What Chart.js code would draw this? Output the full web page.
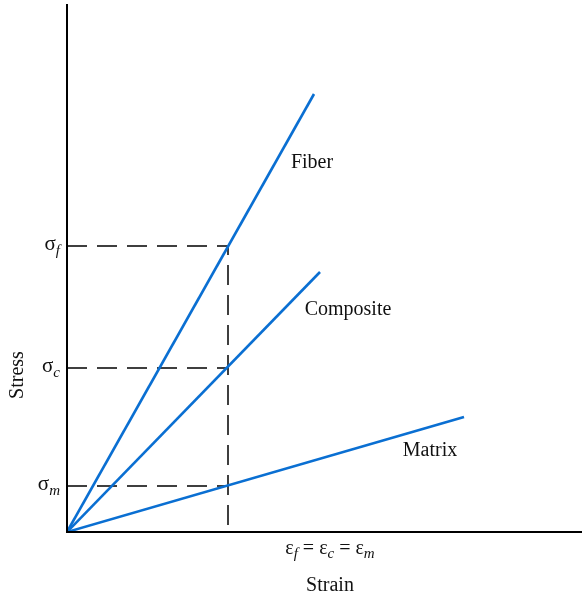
<!DOCTYPE html>
<html>
<head>
<meta charset="utf-8">
<script src="https://cdn.jsdelivr.net/npm/chart.js@4"></script>
<style>
  html, body { margin: 0; padding: 0; background: #fff; }
  #wrap { width: 582px; height: 598px; }
</style>
</head>
<body>
<div id="wrap"><canvas id="stressChart"></canvas></div>
<script>
// strain / stress in arbitrary units
const strainMax = 515;
const stressMax = 528;
const strainEq = 161;              // ef = ec = em
const lineNames = ['Fiber', 'Composite', 'Matrix'];
const lineEndStrain = [247, 253, 397];
const lineEndStress = [438, 260, 115];
const nameStrain = [245, 281, 363];  // where the names sit
const nameStress = [369, 222, 81];
const stressLevels = [286, 164, 46]; // sigma_f, sigma_c, sigma_m
const stressSubs = ['f', 'c', 'm'];

const blue = '#0a6fd2';
const serif = '"Liberation Serif", "DejaVu Serif", serif';

const datasets = lineNames.map((n, i) => ({
    label: n,
    data: [{x: 0, y: 0}, {x: lineEndStrain[i], y: lineEndStress[i]}],
    borderColor: blue,
    borderWidth: 2.6,
    pointRadius: 0
}));

// dashed guides
datasets.push({
    label: 'guide-f',
    data: [{x: 0, y: stressLevels[0]}, {x: strainEq, y: stressLevels[0]}, {x: strainEq, y: 0}],
    borderColor: '#000', borderWidth: 1.5, borderDash: [20, 10], pointRadius: 0
});
[1, 2].forEach(i => datasets.push({
    label: 'guide-' + stressSubs[i],
    data: [{x: 0, y: stressLevels[i]}, {x: strainEq, y: stressLevels[i]}],
    borderColor: '#000', borderWidth: 1.5, borderDash: [20, 10], pointRadius: 0
}));

const decor = {
    id: 'decor',
    afterDatasetsDraw(chart) {
        const {ctx, chartArea: a, scales: {x, y}} = chart;
        ctx.save();
        // axes
        ctx.strokeStyle = '#000';
        ctx.lineWidth = 2;
        ctx.beginPath();
        ctx.moveTo(a.left, a.top);
        ctx.lineTo(a.left, a.bottom);
        ctx.lineTo(a.right, a.bottom);
        ctx.stroke();

        ctx.fillStyle = '#111';
        ctx.textBaseline = 'middle';
        ctx.textAlign = 'center';
        ctx.font = '20px ' + serif;
        lineNames.forEach((n, i) => {
            ctx.fillText(n, x.getPixelForValue(nameStrain[i]), y.getPixelForValue(nameStress[i]));
        });

        // sigma labels
        stressLevels.forEach((s, i) => {
            const py = y.getPixelForValue(s);
            ctx.font = 'italic 15px ' + serif;
            const subW = ctx.measureText(stressSubs[i]).width;
            const right = a.left - 7;
            ctx.textAlign = 'right';
            ctx.fillText(stressSubs[i], right, py + 5);
            ctx.font = '21px ' + serif;
            ctx.fillText('σ', right - subW, py - 2);
        });

        // strain equality label
        const cx = x.getPixelForValue(strainEq) + 102;
        const by = a.bottom + 17;
        const parts = [['ε', 0], ['f', 1], [' = ', 0], ['ε', 0], ['c', 1], [' = ', 0], ['ε', 0], ['m', 1]];
        const fontOf = p => p[1] ? 'italic 15px ' + serif : '20px ' + serif;
        let total = 0;
        parts.forEach(p => { ctx.font = fontOf(p); total += ctx.measureText(p[0]).width; });
        let px = cx - total / 2;
        ctx.textAlign = 'left';
        parts.forEach(p => {
            ctx.font = fontOf(p);
            ctx.fillText(p[0], px, by + (p[1] ? 5 : 0));
            px += ctx.measureText(p[0]).width;
        });

        // axis titles
        ctx.font = '20px ' + serif;
        ctx.textAlign = 'center';
        ctx.fillText('Strain', cx, a.bottom + 54);
        ctx.translate(18, 375);
        ctx.rotate(-Math.PI / 2);
        ctx.fillText('Stress', 0, 0);
        ctx.restore();
    }
};

new Chart(document.getElementById('stressChart'), {
    type: 'line',
    data: {datasets},
    options: {
        responsive: true,
        maintainAspectRatio: false,
        animation: false,
        layout: {padding: {left: 67, right: 0, top: 4, bottom: 66}},
        plugins: {legend: {display: false}, tooltip: {enabled: false}},
        scales: {
            x: {type: 'linear', min: 0, max: strainMax, display: false},
            y: {type: 'linear', min: 0, max: stressMax, display: false}
        }
    },
    plugins: [decor]
});
</script>
</body>
</html>
